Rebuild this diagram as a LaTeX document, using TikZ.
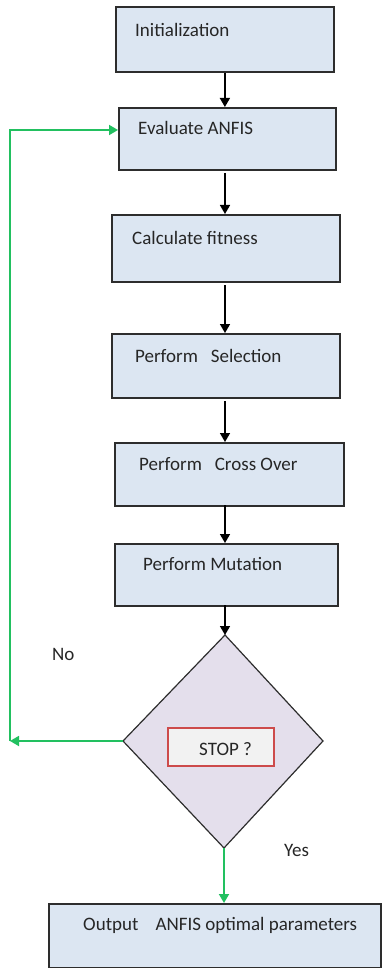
\documentclass[tikz,border=0pt]{standalone}
\usepackage{fontspec}
\setmainfont{Carlito}
\usetikzlibrary{arrows.meta}
\definecolor{boxfill}{RGB}{220,230,242}
\definecolor{boxline}{RGB}{45,45,45}
\definecolor{dfill}{RGB}{228,223,236}
\definecolor{gline}{RGB}{34,192,96}
\definecolor{stopline}{RGB}{205,75,75}
\definecolor{stopfill}{RGB}{242,242,242}
\tikzset{
  box/.style={draw=boxline, fill=boxfill, line width=1.8pt, rectangle, inner sep=0pt, anchor=north west},
  lbl/.style={anchor=west, inner sep=0pt, font=\fontsize{19}{21}\selectfont, text=black!85},
  arr/.style={draw=black, line width=1.5pt, -{Triangle[length=9pt,width=10pt]}},
  garr/.style={draw=gline, line width=1.8pt, -{Triangle[length=9pt,width=10pt]}}
}
\begin{document}
\begin{tikzpicture}[x=1pt,y=-1pt]
\useasboundingbox (0,0) rectangle (383,968);
% boxes
\node[box, minimum width=218, minimum height=65] (b1) at (115,6) {};
\node[box, minimum width=217, minimum height=62] (b2) at (118,107) {};
\node[box, minimum width=228, minimum height=67] (b3) at (111,214) {};
\node[box, minimum width=228, minimum height=64] (b4) at (111,333) {};
\node[box, minimum width=229, minimum height=63] (b5) at (114,442) {};
\node[box, minimum width=223, minimum height=62] (b6) at (114,543) {};
\node[box, minimum width=332, minimum height=64] (b7) at (48,903) {};
% labels
\node[lbl] (t1) at (135,30) {Initialization};
\node[lbl] (t2) at (138,128) {Evaluate ANFIS};
\node[lbl] (t3) at (132,238) {Calculate fitness};
\node[lbl] (t4) at (135,356) {Perform\ \ \ Selection};
\node[lbl] (t5) at (139,464) {Perform\ \ \ Cross Over};
\node[lbl] (t6) at (143,564) {Perform Mutation};
\node[lbl] (t7) at (83,925) {Output\ \ \ \ ANFIS optimal parameters};
% diamond
\coordinate (dt) at (225,635);
\coordinate (dl) at (123,741);
\coordinate (dr) at (323,741);
\coordinate (db) at (224,848);
\draw[draw=boxline, fill=dfill, line width=1.2pt] (dt) -- (dr) -- (db) -- (dl) -- cycle;
\node[draw=stopline, fill=stopfill, line width=1.7pt, minimum width=106, minimum height=38, inner sep=0pt, anchor=north west] (stop) at (167,727) {};
\node[lbl] (ts) at (199,749) {STOP ?};
% arrows
\draw[arr] (b1.south) -- (b1.south |- b2.north);
\draw[arr] (225,173) -- (225,214);
\draw[arr] (225,285) -- (b4.north -| 225,0);
\draw[arr] (225,401) -- (b5.north -| 225,0);
\draw[arr] (225,505) -- (b6.north -| 225,0);
\draw[arr] (225,605) -- (dt);
% green
\coordinate (gl) at (10,741);
\coordinate (gt) at (10,130);
\draw[garr] (dl) -- (gl);
\draw[garr] (gl) -- (gt) -- (b2.west |- gt);
\draw[garr] (db) -- (db |- b7.north);
% yes/no
\node[lbl] (no) at (52,654) {No};
\node[lbl] (yes) at (284,850) {Yes};
\end{tikzpicture}
\end{document}
